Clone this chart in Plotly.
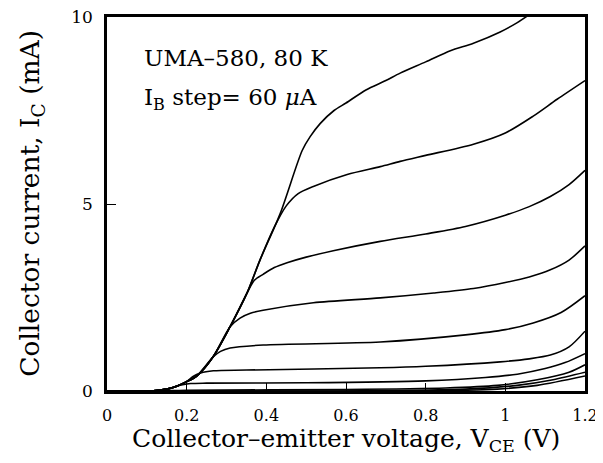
import plotly.graph_objects as go

# I-V curves: V_CE in volts, I_C in mA, top curve first
vce_1 = [0, 0.1, 0.13, 0.15, 0.175, 0.2, 0.225, 0.266, 0.309, 0.352, 0.384, 0.435, 0.49, 0.51, 0.535, 0.57, 0.6, 0.65, 0.7, 0.736, 0.8, 0.862, 0.92, 0.987, 1.03, 1.065]
ic_1 = [0, 0, 0.02, 0.05, 0.13, 0.25, 0.4, 0.91, 1.72, 2.63, 3.5, 4.75, 6.43, 6.8, 7.15, 7.5, 7.7, 8.05, 8.3, 8.5, 8.8, 9.1, 9.3, 9.6, 9.85, 10.1]

vce_2 = [0, 0.1, 0.13, 0.15, 0.175, 0.2, 0.225, 0.266, 0.309, 0.352, 0.384, 0.42, 0.45, 0.48, 0.518, 0.603, 0.686, 0.736, 0.8, 0.92, 1.0, 1.07, 1.13, 1.2]
ic_2 = [0, 0, 0.02, 0.05, 0.13, 0.25, 0.4, 0.91, 1.72, 2.63, 3.5, 4.38, 4.95, 5.28, 5.47, 5.79, 6.0, 6.14, 6.3, 6.6, 6.9, 7.35, 7.8, 8.3]

vce_3 = [0, 0.1, 0.13, 0.15, 0.175, 0.2, 0.225, 0.266, 0.309, 0.352, 0.37, 0.392, 0.42, 0.452, 0.5, 0.568, 0.686, 0.8, 0.9, 1.0, 1.06, 1.113, 1.16, 1.2]
ic_3 = [0, 0, 0.02, 0.05, 0.13, 0.25, 0.4, 0.91, 1.72, 2.63, 2.96, 3.12, 3.3, 3.43, 3.58, 3.75, 4.0, 4.2, 4.4, 4.7, 4.93, 5.2, 5.52, 5.9]

vce_4 = [0, 0.1, 0.13, 0.15, 0.175, 0.2, 0.225, 0.266, 0.309, 0.334, 0.36, 0.392, 0.518, 0.686, 0.82, 0.92, 1.0, 1.06, 1.113, 1.16, 1.2]
ic_4 = [0, 0, 0.02, 0.05, 0.13, 0.25, 0.4, 0.91, 1.72, 1.95, 2.08, 2.16, 2.36, 2.49, 2.62, 2.74, 2.9, 3.05, 3.24, 3.5, 3.88]

vce_5 = [0, 0.1, 0.13, 0.15, 0.175, 0.2, 0.225, 0.266, 0.285, 0.309, 0.392, 0.686, 0.9, 1.0, 1.07, 1.14, 1.2]
ic_5 = [0, 0, 0.02, 0.05, 0.13, 0.25, 0.4, 0.91, 1.06, 1.15, 1.23, 1.31, 1.5, 1.64, 1.82, 2.1, 2.55]

vce_6 = [0, 0.1, 0.13, 0.15, 0.175, 0.2, 0.215, 0.235, 0.267, 0.35, 0.686, 0.8, 0.987, 1.06, 1.113, 1.16, 1.2]
ic_6 = [0, 0, 0.02, 0.05, 0.13, 0.25, 0.38, 0.48, 0.54, 0.56, 0.62, 0.66, 0.78, 0.86, 0.96, 1.18, 1.6]

vce_7 = [0, 0.1, 0.13, 0.15, 0.175, 0.19, 0.21, 0.25, 0.5, 0.8, 0.95, 1.03, 1.1, 1.15, 1.2]
ic_7 = [0, 0, 0.02, 0.05, 0.13, 0.17, 0.2, 0.21, 0.22, 0.27, 0.36, 0.45, 0.6, 0.76, 1.0]

vce_8 = [0, 0.12, 0.2, 0.6, 0.85, 0.98, 1.08, 1.16, 1.2]
ic_8 = [0, 0, 0.02, 0.04, 0.08, 0.15, 0.3, 0.5, 0.7]

vce_9 = [0, 0.5, 0.7, 0.9, 1.03, 1.12, 1.2]
ic_9 = [0, 0, 0.01, 0.05, 0.15, 0.3, 0.5]

vce_10 = [0, 0.6, 0.85, 0.98, 1.08, 1.2]
ic_10 = [0, 0, 0.01, 0.05, 0.15, 0.4]

curves = [(vce_1, ic_1), (vce_2, ic_2), (vce_3, ic_3), (vce_4, ic_4), (vce_5, ic_5),
          (vce_6, ic_6), (vce_7, ic_7), (vce_8, ic_8), (vce_9, ic_9), (vce_10, ic_10)]

x_ticks = [0, 0.2, 0.4, 0.6, 0.8, 1, 1.2]
x_tick_text = ['0', '0.2', '0.4', '0.6', '0.8', '1', '1.2']
y_ticks = [0, 5, 10]

FONT = 'DejaVu Serif'

fig = go.Figure()
for vce, ic in curves:
  fig.add_trace(go.Scatter(x=vce, y=ic, mode='lines', showlegend=False,
                           line=dict(color='black', width=1.6, shape='spline', smoothing=0.8)))

# the page body adds an 8px margin, so the figure is 8px smaller and margins shifted
fig.update_layout(
  width=595, height=455,
  margin=dict(l=99, r=18, t=9, b=72, autoexpand=False),
  paper_bgcolor='white', plot_bgcolor='white',
  font=dict(family=FONT, color='black'),
)
fig.update_xaxes(range=[0, 1.2], tickvals=x_ticks, ticktext=x_tick_text,
                 ticks='inside', ticklen=8, tickwidth=1.2, tickcolor='black',
                 showline=True, linecolor='black', linewidth=2.5, mirror=True,
                 showgrid=False, zeroline=False, automargin=False, ticklabeloverflow='allow',
                 tickfont=dict(size=16, family=FONT), ticklabelstandoff=8)
fig.update_yaxes(range=[0, 10], tickvals=y_ticks,
                 ticks='inside', ticklen=9, tickwidth=1.2, tickcolor='black',
                 showline=True, linecolor='black', linewidth=2.5, mirror=True,
                 showgrid=False, zeroline=False, automargin=False, ticklabeloverflow='allow',
                 tickfont=dict(size=17, family=FONT), ticklabelstandoff=8)

# axis titles as annotations so they sit where the original has them
fig.add_annotation(x=0.5, y=-0.13, xref='paper', yref='paper', xanchor='center', yanchor='middle',
                   text='Collector\u2013emitter voltage, V<sub>CE</sub> (V)', showarrow=False,
                   font=dict(size=25, family=FONT))
fig.add_annotation(x=-0.157, y=0.503, xref='paper', yref='paper', xanchor='center', yanchor='middle',
                   text='Collector current, I<sub>C</sub> (mA)', showarrow=False, textangle=-90,
                   font=dict(size=26.5, family=FONT))

fig.add_annotation(x=0.073, y=0.89, xref='paper', yref='paper', xanchor='left', yanchor='middle',
                   text='UMA\u2013580, 80 K', showarrow=False, font=dict(size=23, family=FONT))
fig.add_annotation(x=0.073, y=0.782, xref='paper', yref='paper', xanchor='left', yanchor='middle',
                   text='I<sub>B</sub> step= 60 <i>\u03bc</i>A', showarrow=False, font=dict(size=23, family=FONT))

fig.write_html('out.html')
